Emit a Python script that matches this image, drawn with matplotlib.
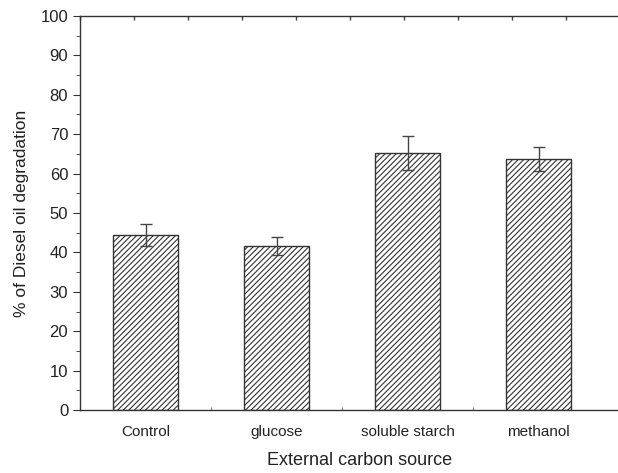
import matplotlib
matplotlib.use('Agg')
import matplotlib.pyplot as plt
from matplotlib.ticker import MultipleLocator, NullFormatter

plt.rcParams['font.family'] = ['Liberation Sans', 'DejaVu Sans']
plt.rcParams['hatch.linewidth'] = 0.8

# data
sources = ['Control', 'glucose', 'soluble starch', 'methanol']
degradation = [44.4, 41.7, 65.2, 63.7]
errors = [2.7, 2.3, 4.4, 3.1]

W, H = 618, 473
fig = plt.figure(figsize=(W / 100, H / 100), dpi=100)

# axes runs past the right edge of the picture, like the cropped original
left_px, bottom_px, top_px = 80, 410, 16
unit_px = 131
right_px = 640
ax = fig.add_axes([left_px / W, (H - bottom_px) / H,
                   (right_px - left_px) / W, (bottom_px - top_px) / H])

x = range(len(sources))
ax.bar(x, degradation, width=0.5, color='white', edgecolor='#333333',
       linewidth=1.0, hatch='//////', zorder=2)
ax.errorbar(x, degradation, yerr=errors, fmt='none', ecolor='#444444',
            elinewidth=1.0, capsize=4, capthick=1.0, zorder=3)

ax.set_xlim(-0.5, -0.5 + (right_px - left_px) / unit_px)
ax.set_ylim(0, 100)
ax.set_xticks(list(x))
ax.set_xticklabels(sources, fontsize=11, color='#222222')
ax.tick_params(axis='x', which='major', length=0, pad=11)
ax.set_xticks([0.5, 1.5, 2.5], minor=True)
ax.tick_params(axis='x', which='minor', direction='in', length=2, color='#555555')

ax.yaxis.set_major_locator(MultipleLocator(10))
ax.yaxis.set_minor_locator(MultipleLocator(5))
ax.tick_params(axis='y', which='major', direction='out', length=5,
               labelsize=12, labelcolor='#222222', color='#333333')
ax.tick_params(axis='y', which='minor', direction='out', length=3, color='#333333')

for side in ['left', 'bottom', 'top']:
    ax.spines[side].set_color('#333333')
    ax.spines[side].set_linewidth(1.0)
ax.spines['right'].set_visible(False)

# top frame carries its own evenly spaced inward ticks (every 54 px)
step = 54 / unit_px
top = ax.secondary_xaxis('top', functions=(lambda v: (v + 0.5) / step,
                                           lambda s: s * step - 0.5))
top.xaxis.set_major_locator(MultipleLocator(1))
top.xaxis.set_major_formatter(NullFormatter())
top.tick_params(axis='x', direction='in', length=3, width=1.0, color='#444444')
top.spines['top'].set_visible(False)

ax.set_xlabel('External carbon source', fontsize=13, color='#222222', labelpad=9)
ax.set_ylabel('% of Diesel oil degradation', fontsize=12.5, color='#222222', labelpad=8)

fig.savefig('out.png', dpi=100)
